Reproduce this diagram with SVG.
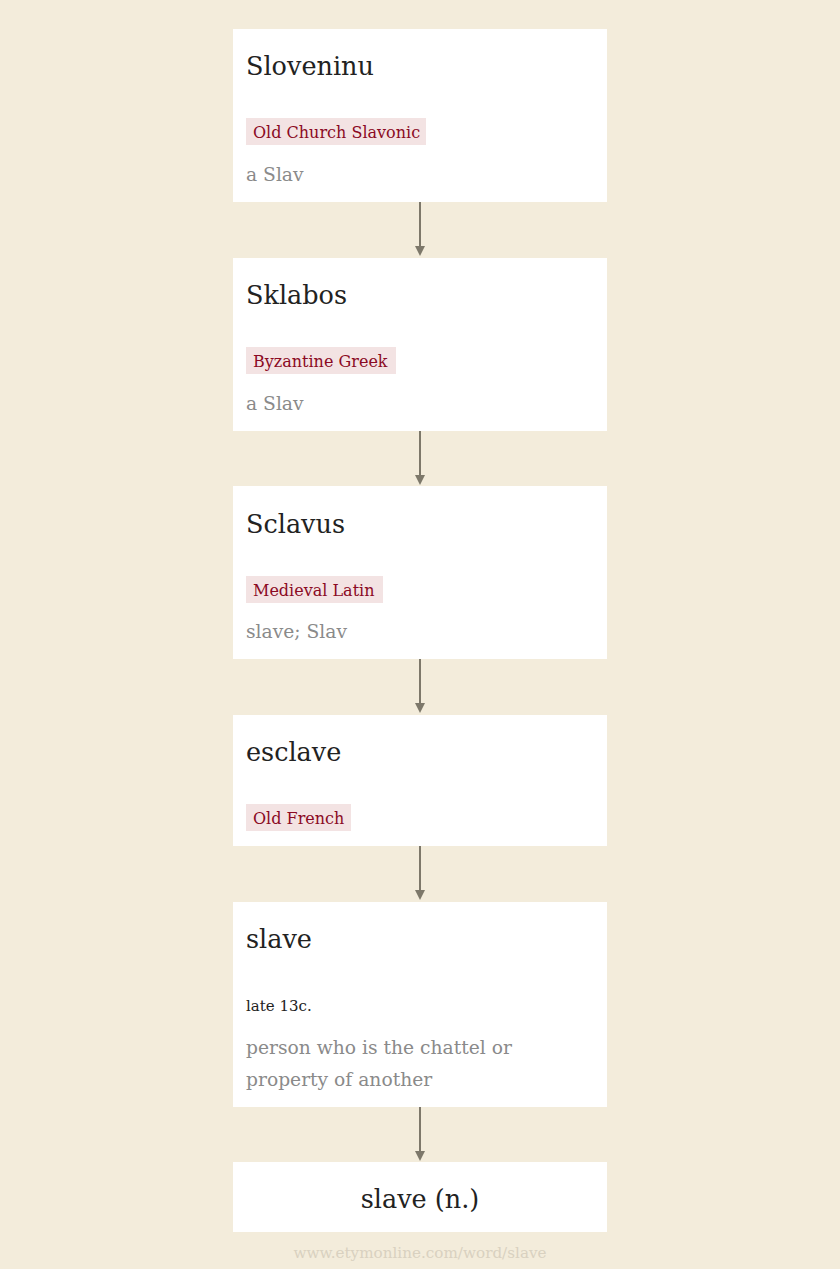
<svg xmlns="http://www.w3.org/2000/svg" width="840" height="1269" viewBox="0 0 840 1269">
<style>
.box{fill:#ffffff}
.title{font-family:"DejaVu Serif","Liberation Serif",serif;font-size:25.5px;fill:#222222}
.tagbg{fill:#f3e3e3}
.tag{font-family:"DejaVu Serif","Liberation Serif",serif;font-size:16px;fill:#8b0a24}
.gloss{font-family:"DejaVu Serif","Liberation Serif",serif;font-size:18.7px;fill:#8a8a8a}
.date{font-family:"DejaVu Serif","Liberation Serif",serif;font-size:15px;fill:#222222}
.foot{font-family:"DejaVu Serif","Liberation Serif",serif;font-size:15.2px;fill:#d9d1c0}
.conn{stroke:#7d786a;stroke-width:2;fill:none}
</style>
<defs>
<marker id="arr" markerWidth="10" markerHeight="10" refX="5" refY="5" orient="auto" markerUnits="userSpaceOnUse">
<path d="M0,0 L10,5 L0,10 Z" fill="#7d786a"/>
</marker>
</defs>
<rect x="0" y="0" width="840" height="1269" fill="#f3ecdb"/>
<g id="connectors">
<line class="conn" x1="420" y1="202" x2="420" y2="251" marker-end="url(#arr)"/>
<line class="conn" x1="420" y1="431" x2="420" y2="480" marker-end="url(#arr)"/>
<line class="conn" x1="420" y1="659" x2="420" y2="708" marker-end="url(#arr)"/>
<line class="conn" x1="420" y1="846" x2="420" y2="895" marker-end="url(#arr)"/>
<line class="conn" x1="420" y1="1107" x2="420" y2="1156" marker-end="url(#arr)"/>
</g>
<g id="node1">
<rect class="box" x="233" y="29" width="374" height="173"/>
<text class="title" x="246" y="75">Sloveninu</text>
<rect class="tagbg" x="246" y="118" width="180" height="27"/>
<text class="tag" x="253" y="138">Old Church Slavonic</text>
<text class="gloss" x="246" y="181">a Slav</text>
</g>
<g id="node2">
<rect class="box" x="233" y="258" width="374" height="173"/>
<text class="title" x="246" y="304">Sklabos</text>
<rect class="tagbg" x="246" y="347" width="150" height="27"/>
<text class="tag" x="253" y="367">Byzantine Greek</text>
<text class="gloss" x="246" y="410">a Slav</text>
</g>
<g id="node3">
<rect class="box" x="233" y="486" width="374" height="173"/>
<text class="title" x="246" y="533">Sclavus</text>
<rect class="tagbg" x="246" y="576" width="137" height="27"/>
<text class="tag" x="253" y="596">Medieval Latin</text>
<text class="gloss" x="246" y="638">slave; Slav</text>
</g>
<g id="node4">
<rect class="box" x="233" y="715" width="374" height="131"/>
<text class="title" x="246" y="761">esclave</text>
<rect class="tagbg" x="246" y="804" width="105" height="27"/>
<text class="tag" x="253" y="824">Old French</text>
</g>
<g id="node5">
<rect class="box" x="233" y="902" width="374" height="205"/>
<text class="title" x="246" y="948">slave</text>
<text class="date" x="246" y="1011">late 13c.</text>
<text class="gloss" x="246" y="1054">person who is the chattel or</text>
<text class="gloss" x="246" y="1086">property of another</text>
</g>
<g id="node6">
<rect class="box" x="233" y="1162" width="374" height="70"/>
<text class="title" x="420" y="1208" text-anchor="middle">slave (n.)</text>
</g>
<text class="foot" x="420" y="1258" text-anchor="middle">www.etymonline.com/word/slave</text>
</svg>
